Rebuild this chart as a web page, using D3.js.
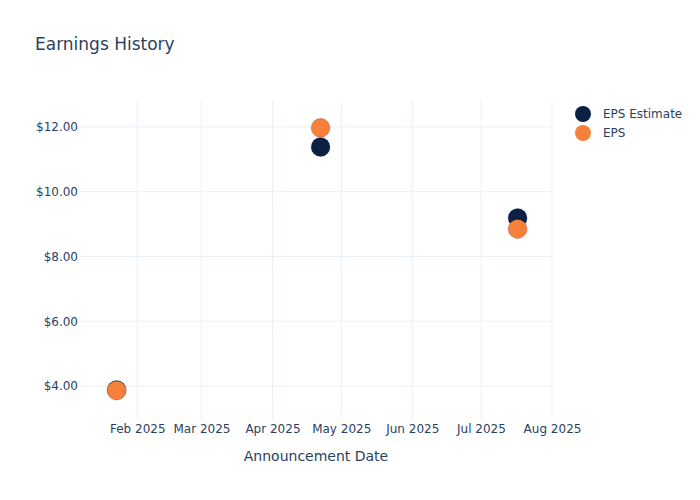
<!DOCTYPE html>
<html><head><meta charset="utf-8">
<script src="https://cdn.jsdelivr.net/npm/d3@7"></script>
<style>body{margin:0;background:#fff;font-family:"DejaVu Sans",sans-serif;}</style>
</head><body><svg id="c" width="700" height="500"></svg>
<script>
const dates = ["2025-01-23","2025-04-22","2025-07-17"];
const epsEstimate = [3.88, 11.38, 9.19];
const eps = [3.86, 11.97, 8.85];
const xTicks = ["2025-02-01","2025-03-01","2025-04-01","2025-05-01","2025-06-01","2025-07-01","2025-08-01"];
const yTicks = [4, 6, 8, 10, 12];
const seriesNames = ["EPS Estimate","EPS"];
const colors = ["#0c2043","#f7813a"];

const svg = d3.select("#c");
const parse = d3.timeParse("%Y-%m-%d");
const L=80, R=552, T=100, B=420;
const x = d3.scaleTime().domain([parse("2025-01-07"), parse("2025-08-01")]).range([L,R]);
const y = d3.scaleLinear().domain([2.95, 12.83]).range([B,T]);
const txt = "#2a3f5f", grid="#ebf0f8";

svg.append("g").selectAll("line").data(xTicks).join("line")
  .attr("x1",d=>x(parse(d))).attr("x2",d=>x(parse(d))).attr("y1",T).attr("y2",B)
  .attr("stroke",grid).attr("stroke-width",1);
svg.append("g").selectAll("line").data(yTicks).join("line")
  .attr("x1",L).attr("x2",R).attr("y1",d=>y(d)).attr("y2",d=>y(d))
  .attr("stroke",grid).attr("stroke-width",1);

const xa = svg.append("g").attr("transform",`translate(0,${B})`)
  .call(d3.axisBottom(x).tickValues(xTicks.map(parse)).tickFormat(d3.timeFormat("%b %Y")).tickSize(0).tickPadding(4));
xa.select(".domain").remove();
xa.selectAll("text").attr("fill",txt).style("font-size","12px").style("font-family","DejaVu Sans");

const ya = svg.append("g").attr("transform",`translate(${L},0)`)
  .call(d3.axisLeft(y).tickValues(yTicks).tickFormat(d=>"$"+d3.format(".2f")(d)).tickSize(0).tickPadding(2));
ya.select(".domain").remove();
ya.selectAll("text").attr("fill",txt).style("font-size","12px").style("font-family","DejaVu Sans");

[epsEstimate, eps].forEach((vals,i)=>{
  svg.append("g").selectAll("circle").data(vals).join("circle")
    .attr("cx",(d,j)=>x(parse(dates[j]))).attr("cy",d=>y(d)).attr("r",9.5)
    .attr("fill",colors[i]).attr("stroke","#1a2a44").attr("stroke-opacity",0.4).attr("stroke-width",0.5);
});

svg.append("text").attr("x",35).attr("y",50).text("Earnings History")
  .attr("fill",txt).style("font-size","17px");
svg.append("text").attr("x",(L+R)/2).attr("y",461).attr("text-anchor","middle").text("Announcement Date")
  .attr("fill",txt).style("font-size","14px");

const lg = svg.append("g");
seriesNames.forEach((n,i)=>{
  lg.append("circle").attr("cx",583).attr("cy",114+i*19).attr("r",8).attr("fill",colors[i]);
  lg.append("text").attr("x",603).attr("y",118+i*19).text(n).attr("fill",txt).style("font-size","12px");
});
</script></body></html>
